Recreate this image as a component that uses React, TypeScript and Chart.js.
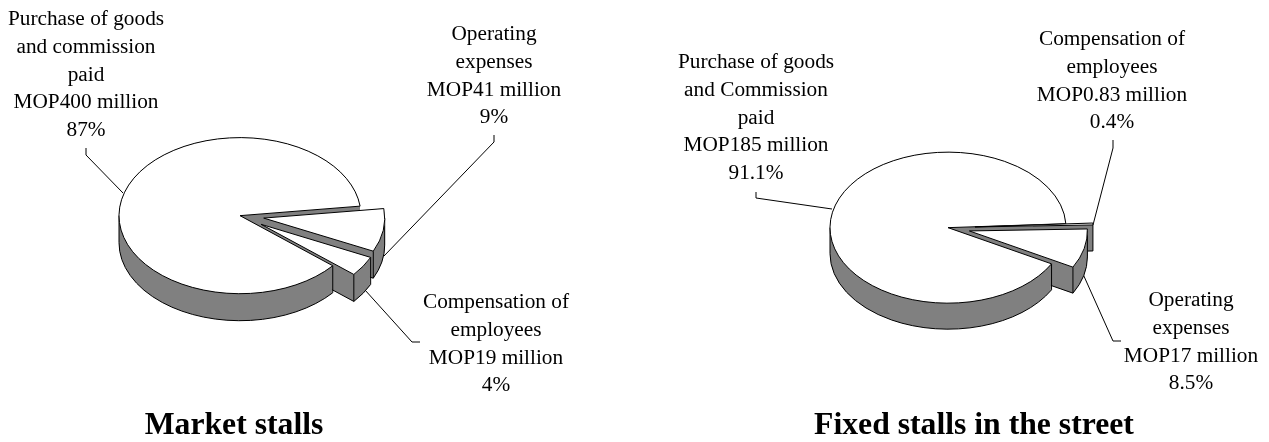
import React, { useEffect, useRef } from "react";
import { Chart, registerables } from "chart.js";

Chart.register(...registerables);

// ---- data ----
const marketTitle = "Market stalls";
const marketCategories = ["Operating expenses", "Compensation of employees", "Purchase of goods and commission paid"];
const marketValues = [41, 19, 400];
const marketOffsets = [24, 25, 0];
const marketLabels = [
  ["Operating", "expenses", "MOP41 million", "9%"],
  ["Compensation of", "employees", "MOP19 million", "4%"],
  ["Purchase of goods", "and commission", "paid", "MOP400 million", "87%"],
];

const streetTitle = "Fixed stalls in the street";
const streetCategories = ["Compensation of employees", "Operating expenses", "Purchase of goods and Commission paid"];
const streetValues = [0.83, 17, 185];
const streetOffsets = [27, 22, 0];
const streetLabels = [
  ["Compensation of", "employees", "MOP0.83 million", "0.4%"],
  ["Operating", "expenses", "MOP17 million", "8.5%"],
  ["Purchase of goods", "and Commission", "paid", "MOP185 million", "91.1%"],
];

// ---- layout and style ----
const FONT = '"Liberation Serif", "Times New Roman", serif';
const GREY = "#808080";

type P = [number, number];
type Layout = {
  canvasLeft: number;
  width: number;
  padLeft: number;
  padRight: number;
  padTop: number;
  radius: number;
  rotation: number;
  squash: number;
  depth: number;
  shiftX: number;
  labelAnchors: { x: number; y: number }[];
  leaders: P[][];
};

const marketLayout: Layout = {
  canvasLeft: 0,
  width: 634,
  padLeft: 0,
  padRight: 166,
  padTop: 21,
  radius: 121,
  rotation: 83,
  squash: 0.645,
  depth: 27,
  shiftX: 6,
  labelAnchors: [
    { x: 494, y: 40 },
    { x: 496, y: 308 },
    { x: 86, y: 25 },
  ],
  leaders: [
    [[494, 135], [494, 142], [384, 256]],
    [[420, 342], [412, 342], [365, 290]],
    [[86, 148], [86, 155], [123, 193]],
  ],
};

const streetLayout: Layout = {
  canvasLeft: 635,
  width: 634,
  padLeft: 44,
  padRight: 0,
  padTop: 45,
  radius: 118,
  rotation: 87,
  squash: 0.64,
  depth: 26,
  shiftX: -26,
  labelAnchors: [
    { x: 1112, y: 45 },
    { x: 1191, y: 306 },
    { x: 756, y: 68 },
  ],
  leaders: [
    [[1113, 140], [1113, 148], [1093, 225]],
    [[1121, 341], [1113, 341], [1083, 274]],
    [[756, 192], [756, 198], [832, 209]],
  ],
};

function makePie3d(layout: Layout, labels: string[][]) {
  const k = layout.squash;
  return {
    id: "pie3d",
    beforeDatasetsDraw(chart: any) {
      const ctx: CanvasRenderingContext2D = chart.ctx;
      const arcs = chart.getDatasetMeta(0).data;
      const slices = arcs.map((arc: any) => {
        const p = arc.getProps(["x", "y", "startAngle", "endAngle", "outerRadius"], true);
        const mid = (p.startAngle + p.endAngle) / 2;
        const off = arc.options.offset || 0;
        return {
          cx: p.x + layout.shiftX + Math.cos(mid) * off,
          cy: p.y + Math.sin(mid) * off * k,
          r: p.outerRadius,
          s: p.startAngle,
          e: p.endAngle,
        };
      });
      const px = (sl: any, a: number, d = 0): P => [sl.cx + Math.cos(a) * sl.r, sl.cy + Math.sin(a) * sl.r * k + d];
      const sector = (sl: any, d: number) => {
        ctx.beginPath();
        ctx.moveTo(sl.cx, sl.cy + d);
        ctx.ellipse(sl.cx, sl.cy + d, sl.r, sl.r * k, 0, sl.s, sl.e);
        ctx.closePath();
      };
      const seg = (a: P, b: P) => {
        ctx.beginPath();
        ctx.moveTo(a[0], a[1]);
        ctx.lineTo(b[0], b[1]);
        ctx.stroke();
      };
      const walls = (sl: any, isMain: boolean) => {
        ctx.fillStyle = GREY;
        for (let d = layout.depth; d >= 0; d--) {
          sector(sl, d);
          ctx.fill();
        }
        if (!isMain) seg([sl.cx, sl.cy + layout.depth], px(sl, sl.e, layout.depth));
        const lo = Math.max(sl.s, 0);
        const hi = Math.min(sl.e, Math.PI);
        if (hi > lo) {
          ctx.beginPath();
          ctx.ellipse(sl.cx, sl.cy + layout.depth, sl.r, sl.r * k, 0, lo, hi);
          ctx.stroke();
          seg(px(sl, lo), px(sl, lo, layout.depth));
          seg(px(sl, hi), px(sl, hi, layout.depth));
        } else {
          seg(px(sl, sl.e), px(sl, sl.e, layout.depth));
        }
      };
      const top = (sl: any) => {
        sector(sl, 0);
        ctx.fillStyle = "#ffffff";
        ctx.fill();
        ctx.stroke();
      };

      ctx.save();
      ctx.strokeStyle = "#000000";
      ctx.lineWidth = 1;
      ctx.lineJoin = "miter";
      const main = slices[slices.length - 1];
      const rest = slices.slice(0, -1);

      // leader lines lie behind the pie
      layout.leaders.forEach((pts) => {
        ctx.beginPath();
        pts.forEach((q, i) => {
          const x = q[0] - layout.canvasLeft;
          if (i === 0) ctx.moveTo(x, q[1]);
          else ctx.lineTo(x, q[1]);
        });
        ctx.stroke();
      });

      rest.forEach((sl: any) => walls(sl, false));
      walls(main, true);
      top(main);
      rest.forEach((sl: any) => top(sl));

      // slice labels
      ctx.fillStyle = "#000000";
      ctx.font = `21.3px ${FONT}`;
      ctx.textAlign = "center";
      ctx.textBaseline = "alphabetic";
      labels.forEach((lines, i) => {
        const a = layout.labelAnchors[i];
        lines.forEach((line, j) => {
          ctx.fillText(line, a.x - layout.canvasLeft, a.y + j * 27.8);
        });
      });
      ctx.restore();
      return false;
    },
  };
}

function StallPie(props: {
  title: string;
  categories: string[];
  values: number[];
  offsets: number[];
  labels: string[][];
  layout: Layout;
}) {
  const ref = useRef<HTMLCanvasElement | null>(null);
  const { title, categories, values, offsets, labels, layout } = props;
  useEffect(() => {
    const chart = new Chart(ref.current as HTMLCanvasElement, {
      type: "pie",
      data: {
        labels: categories,
        datasets: [
          {
            data: values,
            offset: offsets,
            backgroundColor: "#ffffff",
            borderColor: "#000000",
            borderWidth: 0,
          } as any,
        ],
      },
      options: {
        animation: false,
        responsive: false,
        radius: layout.radius,
        rotation: layout.rotation,
        layout: {
          padding: { left: layout.padLeft, right: layout.padRight, top: layout.padTop, bottom: 0 },
        },
        plugins: {
          legend: { display: false },
          tooltip: { enabled: false },
          title: {
            display: true,
            text: title,
            position: "bottom",
            color: "#000000",
            font: { family: FONT, size: 31.7, weight: "bold", lineHeight: 1 },
            padding: { top: 0, bottom: 0 },
          },
        },
      } as any,
      plugins: [makePie3d(layout, labels)],
    });
    return () => chart.destroy();
  }, []);
  return (
    <canvas
      ref={ref}
      width={layout.width}
      height={442}
      style={{ position: "absolute", left: layout.canvasLeft, top: 0, width: layout.width, height: 442 }}
    />
  );
}

export default function App() {
  return (
    <div style={{ position: "absolute", left: 0, top: 0, width: 1269, height: 442, background: "#fff", overflow: "hidden" }}>
      <StallPie
        title={marketTitle}
        categories={marketCategories}
        values={marketValues}
        offsets={marketOffsets}
        labels={marketLabels}
        layout={marketLayout}
      />
      <StallPie
        title={streetTitle}
        categories={streetCategories}
        values={streetValues}
        offsets={streetOffsets}
        labels={streetLabels}
        layout={streetLayout}
      />
    </div>
  );
}
